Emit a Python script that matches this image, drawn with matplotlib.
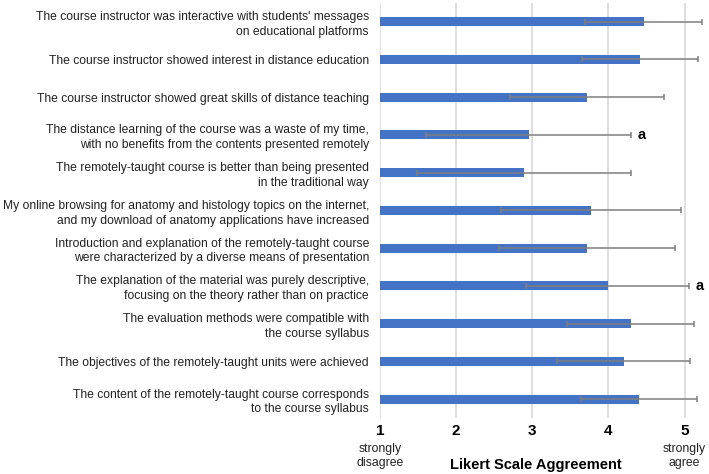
import matplotlib.pyplot as plt
import numpy as np

plt.rcParams['font.family'] = ['Liberation Sans', 'DejaVu Sans']

# items, top to bottom
items = [
    "The course instructor was interactive with students' messages\non educational platforms",
    "The course instructor showed interest in distance education",
    "The course instructor showed great skills of distance teaching",
    "The distance learning of the course was a waste of my time,\nwith no benefits from the contents presented remotely",
    "The remotely-taught course is better than being presented\nin the traditional way",
    "My online browsing for anatomy and histology topics on the internet,\nand my download of anatomy applications have increased",
    "Introduction and explanation of the remotely-taught course\nwere characterized by a diverse means of presentation",
    "The explanation of the material was purely descriptive,\nfocusing on the theory rather than on practice",
    "The evaluation methods were compatible with\nthe course syllabus",
    "The objectives of the remotely-taught units were achieved",
    "The content of the remotely-taught course corresponds\nto the course syllabus",
]
means = [4.46, 4.41, 3.72, 2.95, 2.89, 3.77, 3.72, 3.99, 4.29, 4.20, 4.40]
sds = [0.77, 0.76, 1.01, 1.35, 1.41, 1.18, 1.16, 1.07, 0.83, 0.87, 0.76]
marks = ["", "", "", "a", "", "", "", "a", "", "", ""]

tick_vals = [1, 2, 3, 4, 5]
tick_labels = ["1", "2", "3", "4", "5"]
tick_sub = ["strongly\ndisagree", "", "", "", "strongly\nagree"]

fig = plt.figure(figsize=(7.09, 4.74), dpi=100)
ax = fig.add_axes([0.536, 0.118, 0.464, 0.876])

y = np.arange(len(items))
ax.barh(y, np.array(means) - 1, left=1, height=0.24, color='#4472C4', zorder=2)
ax.errorbar(means, y, xerr=sds, fmt='none', ecolor='#7f7f7f', elinewidth=1.1,
            capsize=2.5, capthick=1.1, zorder=3)

for yi, m, s, lab in zip(y, means, sds, marks):
    if lab:
        ax.text(m + s + 0.08, yi, lab, va='center', ha='left', fontsize=10.5,
                fontweight='bold', clip_on=False)

ax.set_ylim(len(items) - 0.5, -0.5)
ax.set_xlim(1, 5.32)
ax.set_yticks(y)
ax.set_yticklabels(items, fontsize=8.7, color='#222222', linespacing=1.3,
                   multialignment='right')
ax.tick_params(axis='y', length=0, pad=8)

ax.set_xticks(tick_vals)
ax.set_xticklabels(tick_labels, fontsize=11, fontweight='bold')
ax.tick_params(axis='x', length=0, pad=4)
for tv, sub in zip(tick_vals, tick_sub):
    if sub:
        ax.text(tv, -0.06, sub, transform=ax.get_xaxis_transform(), ha='center',
                va='top', fontsize=8.8, color='#222222', linespacing=1.25)

ax.grid(axis='x', color='#d9d9d9', linewidth=1.2, zorder=0)
ax.set_axisbelow(True)
for sp in ax.spines.values():
    sp.set_visible(False)

ax.set_xlabel("Likert Scale Aggreement", fontsize=10.5, fontweight='bold')
ax.xaxis.set_label_coords(0.474, -0.095)

fig.savefig('out.png', dpi=100)
